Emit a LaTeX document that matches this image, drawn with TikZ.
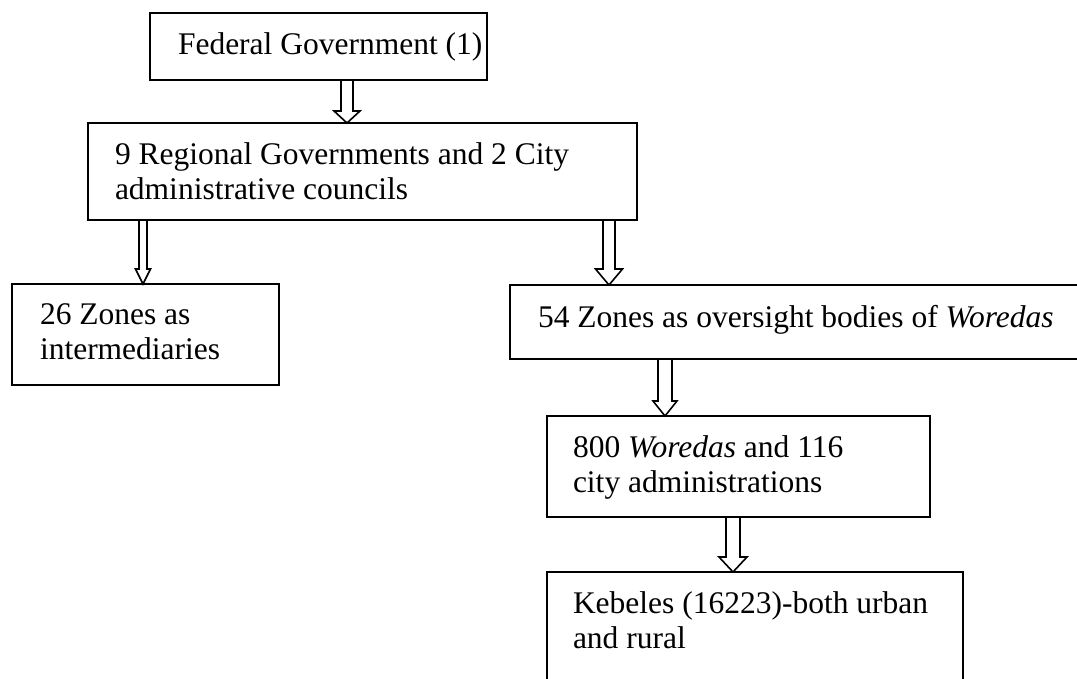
\documentclass[tikz,border=0pt]{standalone}
\usepackage{fontspec}
\setmainfont{Liberation Serif}
\usetikzlibrary{calc}
\newcommand{\hollowarrow}[6]{%
  \path[harrow] let \p1=(#1.south -| #3), \p2=(#2.north -| #3) in
  (\x1-#4pt,\y1) -- (\x1-#4pt,\y2+#6pt) -- (\x1-#5pt,\y2+#6pt) -- (\x1,\y2)
  -- (\x1+#5pt,\y2+#6pt) -- (\x1+#4pt,\y2+#6pt) -- (\x1+#4pt,\y1);}
\begin{document}
\begin{tikzpicture}[x=1pt,y=-1pt,
  box/.style={draw, line width=2pt, anchor=north west, inner sep=0pt, outer sep=0pt},
  txt/.style={anchor=north west, inner sep=0pt, outer sep=0pt, align=left,
    font=\fontsize{31.5}{35}\selectfont},
  harrow/.style={draw, line width=1.6pt, fill=white, line join=miter}]
\useasboundingbox (0,0) rectangle (1077,679);
\fill[white] (0,0) rectangle (1077,679);
\clip (0,0) rectangle (1077,679);

% boxes
\node[box, minimum width=337pt, minimum height=67pt] (fed) at (150,13) {};
\node[box, minimum width=549pt, minimum height=97pt] (reg) at (88,123) {};
\node[box, minimum width=267pt, minimum height=101pt] (z26) at (12,284) {};
\node[box, minimum width=600pt, minimum height=74pt] (z54) at (510,285) {};
\node[box, minimum width=383pt, minimum height=101pt] (wor) at (547,416) {};
\node[box, minimum width=416pt, minimum height=140pt] (keb) at (547,572) {};

% texts
\node[txt] (fedt) at ([xshift=28pt,yshift=-20pt]fed.north west) {Federal Government (1)};
\node[txt] (regt) at ([xshift=27pt,yshift=-20pt]reg.north west) {9 Regional Governments and 2 City\\administrative councils};
\node[txt] (z26t) at ([xshift=28pt,yshift=-20pt]z26.north west) {26 Zones as\\intermediaries};
\node[txt] (z54t) at ([xshift=28pt,yshift=-20pt]z54.north west) {54 Zones as oversight bodies of \textit{Woredas}};
\node[txt] (wort) at ([xshift=26pt,yshift=-20pt]wor.north west) {800 \textit{Woredas} and 116\\city administrations};
\node[txt] (kebt) at ([xshift=26pt,yshift=-20pt]keb.north west) {Kebeles (16223)-both urban\\and rural};

% arrow columns
\coordinate (c1) at (347,0);
\coordinate (c2) at (143,0);
\coordinate (c3) at (609,0);
\coordinate (c4) at (665,0);
\coordinate (c5) at (733,0);

\hollowarrow{fed}{reg}{c1}{6}{13}{12}
\hollowarrow{reg}{z26}{c2}{4}{7.5}{15}
\hollowarrow{reg}{z54}{c3}{6}{13.5}{16}
\hollowarrow{z54}{wor}{c4}{7}{12}{15}
\hollowarrow{wor}{keb}{c5}{7}{14}{15}

% redraw box borders over arrow ends
\foreach \b in {fed,reg,z26,z54,wor,keb}{\draw[line width=2pt] (\b.north west) rectangle (\b.south east);}
\end{tikzpicture}
\end{document}
